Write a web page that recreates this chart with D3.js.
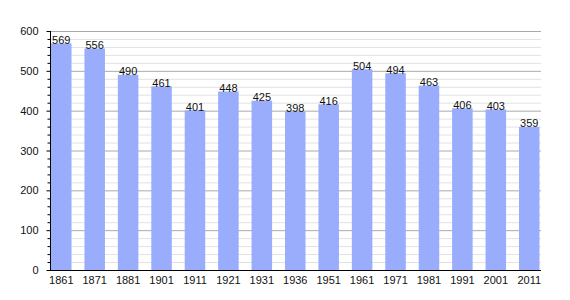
<!DOCTYPE html>
<html><head><meta charset="utf-8">
<script src="https://cdn.jsdelivr.net/npm/d3@7"></script>
<style>body{margin:0;background:#fff}svg{display:block}text{font-family:"Liberation Sans",Arial,sans-serif}</style>
</head><body>
<script>
const years = ["1861","1871","1881","1901","1911","1921","1931","1936","1951","1961","1971","1981","1991","2001","2011"];
const population = [569,556,490,461,401,448,425,398,416,504,494,463,406,403,359];
const yTicks = [0,100,200,300,400,500,600];

const W = 570, H = 300;
const svg = d3.select("body").append("svg").attr("width", W).attr("height", H);
const x0 = 50, x1 = 541, yTop = 31, yBot = 270;
const y = d3.scaleLinear().domain([0,600]).range([yBot, yTop]);
const x = d3.scaleBand().domain(years).range([51, 539.5]).paddingInner(0.386).paddingOuter(0).align(0);

// minor grid
const minor = d3.range(20, 600, 20).filter(v => v % 100 !== 0);
svg.append("g").selectAll("line").data(minor).join("line")
  .attr("x1", x0).attr("x2", x1).attr("y1", d => y(d)+0.5).attr("y2", d => y(d)+0.5)
  .attr("stroke", "#e2e2e2").attr("stroke-width", 1);
// major grid
svg.append("g").selectAll("line").data(yTicks.filter(v => v > 0)).join("line")
  .attr("x1", x0).attr("x2", x1).attr("y1", d => y(d)+0.5).attr("y2", d => y(d)+0.5)
  .attr("stroke", "#aaaaaa").attr("stroke-width", 1);

// bars
svg.append("g").selectAll("rect").data(population).join("rect")
  .attr("x", (d,i) => x(years[i])).attr("width", x.bandwidth())
  .attr("y", d => y(d)).attr("height", d => yBot - y(d))
  .attr("fill", "#99adfc");

// value labels
svg.append("g").selectAll("text").data(population).join("text")
  .attr("x", (d,i) => x(years[i]) + x.bandwidth()/2)
  .attr("y", d => y(d) + 0.5)
  .attr("text-anchor", "middle").attr("font-size", 11).attr("fill", "#111")
  .text(d => d);

// y axis
const yAxis = d3.axisLeft(y).tickValues(yTicks).tickSize(4).tickPadding(8);
const ga = svg.append("g").attr("transform", `translate(${x0+0.5},0)`).call(yAxis);
ga.select(".domain").attr("stroke", "#000").attr("d", `M0,${yTop}V${yBot}`);
ga.selectAll(".tick text").attr("font-size", 11).attr("font-family", "Liberation Sans, Arial, sans-serif").attr("fill", "#111");
ga.selectAll(".tick line").attr("stroke", "#000");
ga.append("g").selectAll("line").data(d3.range(20, 600, 20).filter(v => v % 100 !== 0)).join("line")
  .attr("x1", -3).attr("x2", 0).attr("y1", d => y(d)+0.5).attr("y2", d => y(d)+0.5).attr("stroke", "#000");

// x axis
const xAxis = d3.axisBottom(x).tickSize(0).tickPadding(6);
const gx = svg.append("g").attr("transform", `translate(0,${yBot+0.5})`).call(xAxis);
gx.select(".domain").attr("stroke", "#000").attr("d", `M${x0},0H${x1}`);
gx.selectAll(".tick text").attr("font-size", 11).attr("font-family", "Liberation Sans, Arial, sans-serif").attr("fill", "#111");
</script>
</body></html>
